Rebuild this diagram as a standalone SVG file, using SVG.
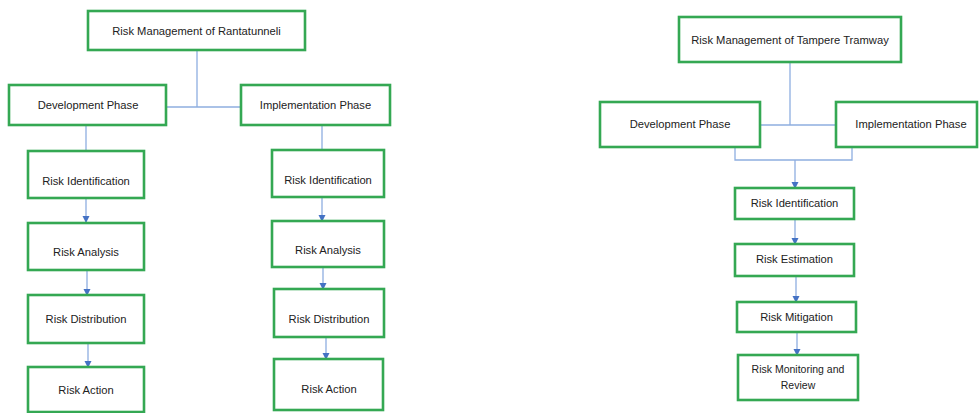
<svg xmlns="http://www.w3.org/2000/svg" width="979" height="413" viewBox="0 0 979 413">
<style>
.box{fill:#fff;stroke:#34a853;stroke-width:2.6}
.t{font-family:"Liberation Sans",Arial,sans-serif;font-size:11.2px;fill:#222;text-anchor:middle;dominant-baseline:central}
.c{fill:none;stroke:#8eaee0;stroke-width:1.3}
</style>
<defs>
<marker id="ah" markerWidth="8" markerHeight="8" refX="6" refY="3.5" orient="auto" markerUnits="userSpaceOnUse">
<path d="M0,0 L7,3.5 L0,7 Z" fill="#4472c4"/>
</marker>
</defs>
<rect width="979" height="413" fill="#fff"/>
<g id="connectors">
<path class="c" d="M197,50 V107 M166,107 H241"/>
<path class="c" d="M86,125 V151"/>
<path class="c" d="M322,125 V150"/>
<path class="c" d="M86,198 V222" marker-end="url(#ah)"/>
<path class="c" d="M87,270 V295" marker-end="url(#ah)"/>
<path class="c" d="M88,343 V367" marker-end="url(#ah)"/>
<path class="c" d="M322,197 V221" marker-end="url(#ah)"/>
<path class="c" d="M323,267 V289" marker-end="url(#ah)"/>
<path class="c" d="M326,337 V359" marker-end="url(#ah)"/>
<path class="c" d="M790,62 V125 M760,125 H836"/>
<path class="c" d="M735,147 V160 H852 V147"/>
<path class="c" d="M795,160 V188" marker-end="url(#ah)"/>
<path class="c" d="M795,219 V244" marker-end="url(#ah)"/>
<path class="c" d="M796,276 V302" marker-end="url(#ah)"/>
<path class="c" d="M797,332 V355" marker-end="url(#ah)"/>
</g>
<g id="rm-rantatunneli"><rect class="box" x="88" y="11" width="217" height="39"/><text class="t" x="196.5" y="31">Risk Management of Rantatunneli</text></g>
<g id="l-dev"><rect class="box" x="9" y="85" width="157" height="40"/><text class="t" x="88" y="105">Development Phase</text></g>
<g id="l-impl"><rect class="box" x="241" y="85" width="149" height="40"/><text class="t" x="315.5" y="105">Implementation Phase</text></g>
<g id="l-ident"><rect class="box" x="28" y="151" width="116" height="47"/><text class="t" x="86" y="181">Risk Identification</text></g>
<g id="l-anal"><rect class="box" x="28" y="223" width="116" height="47"/><text class="t" x="86" y="252">Risk Analysis</text></g>
<g id="l-dist"><rect class="box" x="28" y="295" width="116" height="48"/><text class="t" x="86" y="319">Risk Distribution</text></g>
<g id="l-act"><rect class="box" x="28" y="367" width="116" height="45"/><text class="t" x="86" y="390">Risk Action</text></g>
<g id="r-ident"><rect class="box" x="272" y="150" width="112" height="47"/><text class="t" x="328" y="180">Risk Identification</text></g>
<g id="r-anal"><rect class="box" x="272" y="221" width="112" height="46"/><text class="t" x="328" y="250">Risk Analysis</text></g>
<g id="r-dist"><rect class="box" x="274" y="289" width="110" height="48"/><text class="t" x="329" y="319">Risk Distribution</text></g>
<g id="r-act"><rect class="box" x="274" y="359" width="109" height="51"/><text class="t" x="329" y="389">Risk Action</text></g>
<g id="rm-tampere"><rect class="box" x="679" y="17" width="222" height="45"/><text class="t" x="790" y="40">Risk Management of Tampere Tramway</text></g>
<g id="t-dev"><rect class="box" x="600" y="102" width="160" height="45"/><text class="t" x="680" y="124">Development Phase</text></g>
<g id="t-impl"><rect class="box" x="836" y="102" width="141" height="45"/><text class="t" x="911" y="124">Implementation Phase</text></g>
<g id="t-ident"><rect class="box" x="735" y="188" width="119" height="31"/><text class="t" x="794.5" y="203">Risk Identification</text></g>
<g id="t-est"><rect class="box" x="735" y="244" width="119" height="32"/><text class="t" x="794.5" y="259">Risk Estimation</text></g>
<g id="t-mit"><rect class="box" x="737" y="302" width="119" height="30"/><text class="t" x="796.5" y="317">Risk Mitigation</text></g>
<g id="t-mon"><rect class="box" x="738" y="355" width="120" height="45"/><text class="t" x="798" y="369" style="font-size:10.5px">Risk Monitoring and</text><text class="t" x="798" y="384.5" style="font-size:10.5px">Review</text></g>
</svg>
